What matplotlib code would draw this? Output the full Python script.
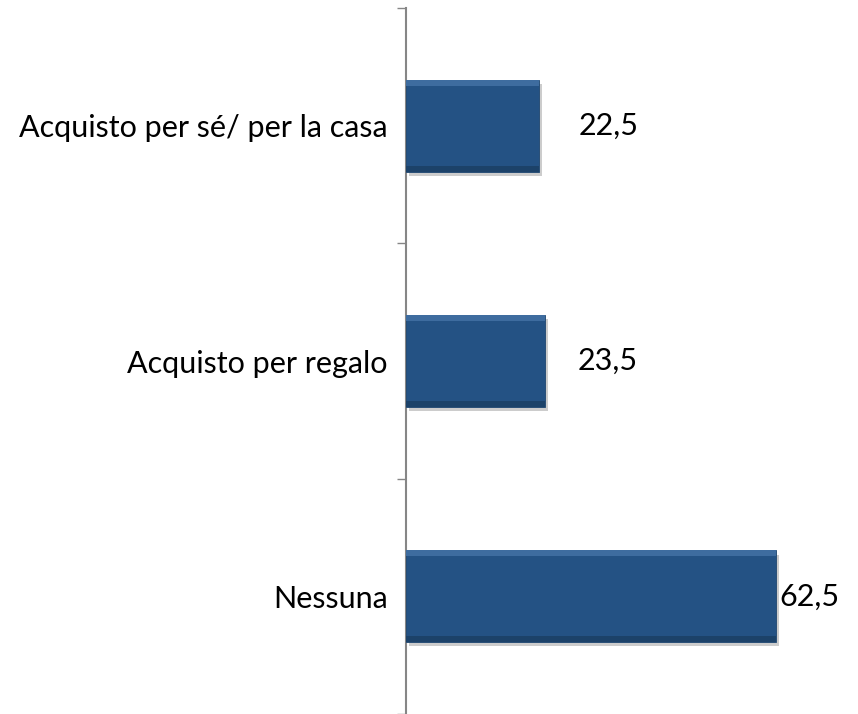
import numpy as np
import matplotlib.pyplot as plt
import matplotlib.patheffects as pe

categories = ["Acquisto per sé/ per la casa", "Acquisto per regalo", "Nessuna"]
values = [22.5, 23.5, 62.5]
value_labels = ["22,5", "23,5", "62,5"]

plt.rcParams['font.family'] = ['Lato', 'DejaVu Sans']

fig = plt.figure(figsize=(8.58, 7.14), dpi=100)
ax = fig.add_axes([406 / 858, 0.0, 452 / 858, 1 - 8 / 714])

y = np.arange(len(categories))
bar_h = 0.39
base = "#245284"

bars = ax.barh(y, values, height=bar_h, color=base, edgecolor="#1e4670", linewidth=0.6, zorder=3)
for b in bars:
    b.set_path_effects([pe.SimplePatchShadow(offset=(2, -3), shadow_rgbFace="#000000", alpha=0.2), pe.Normal()])

# bevel: light top strip, dark bottom strip
ax.barh(y - bar_h / 2 + 0.0125, values, height=0.025, color="#3e6c9f", linewidth=0, zorder=4)
ax.barh(y + bar_h / 2 - 0.0125, values, height=0.025, color="#1c4269", linewidth=0, zorder=4)

offsets = [39, 33, 3]
for i, (v, lab) in enumerate(zip(values, value_labels)):
    ax.annotate(lab, (v, y[i]), xytext=(offsets[i] * 0.72, 0), textcoords="offset points",
                va="center", ha="left", fontsize=22, color="black")

ax.set_xlim(0, 452 / 5.92)
ax.set_ylim(len(categories) - 0.5, -0.5)
ax.set_yticks(y)
ax.set_yticklabels(categories, fontsize=22)
ax.tick_params(axis="y", which="major", length=0, pad=13)
ax.set_yticks(np.arange(-0.5, len(categories), 1.0), minor=True)
ax.tick_params(axis="y", which="minor", length=6.5, width=1, color="#868686", direction="out")
ax.set_xticks([])
for s in ["top", "right", "bottom"]:
    ax.spines[s].set_visible(False)
ax.spines["left"].set_color("#868686")
ax.spines["left"].set_linewidth(1.5)
ax.patch.set_alpha(0)

fig.savefig("out.png", dpi=100)
